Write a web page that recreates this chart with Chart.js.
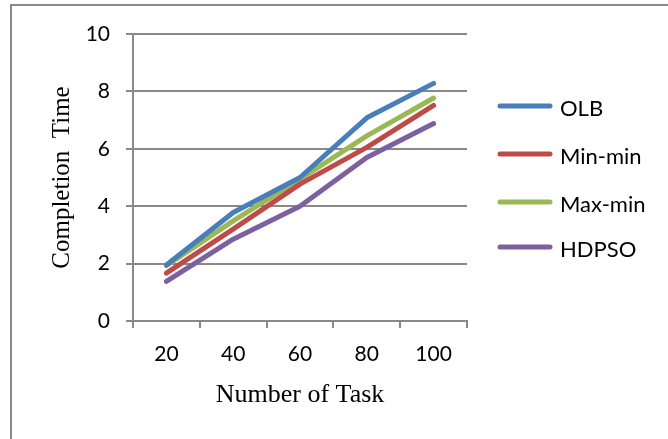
<!DOCTYPE html>
<html>
<head>
<meta charset="utf-8">
<script src="https://cdn.jsdelivr.net/npm/chart.js@4.4.1/dist/chart.umd.min.js"></script>
<style>
    body { margin: 0; background: #fff; }
    #wrap { position: relative; width: 668px; height: 439px; overflow: hidden; }
    #frame {
        position: absolute; left: 10px; top: 4px; width: 700px; height: 500px;
        border-left: 2px solid #8a8a8a; border-top: 2px solid #8a8a8a;
    }
    canvas { position: absolute; left: 0; top: 0; }
</style>
</head>
<body>
<div id="wrap">
    <div id="frame"></div>
    <canvas id="taskChart" width="668" height="439"></canvas>
</div>
<script>
// --- DATA ---
var taskCounts = ['20', '40', '60', '80', '100'];
var olbTimes = [1.95, 3.78, 5.0, 7.08, 8.28];
var minMinTimes = [1.67, 3.2, 4.77, 6.05, 7.51];
var maxMinTimes = [1.93, 3.49, 4.94, 6.45, 7.77];
var hdpsoTimes = [1.38, 2.85, 4.0, 5.7, 6.88];
var yTicks = [0, 2, 4, 6, 8, 10];

var gridColor = '#898989';
var labelFont = { family: 'Lato', size: 21 };

// legend on the right, drawn from dataset labels and colors
var sideLegend = {
    id: 'sideLegend',
    afterDraw: function (chart) {
        var ctx = chart.ctx;
        var rows = [106, 154, 202, 247];
        ctx.save();
        chart.data.datasets.forEach(function (ds, i) {
            var y = rows[i];
            ctx.strokeStyle = ds.borderColor;
            ctx.lineWidth = 5;
            ctx.lineCap = 'round';
            ctx.beginPath();
            ctx.moveTo(500, y);
            ctx.lineTo(550, y);
            ctx.stroke();
            ctx.fillStyle = '#000';
            ctx.font = '22px Lato';
            ctx.textBaseline = 'middle';
            ctx.textAlign = 'left';
            ctx.fillText(ds.label, 560, y + 3);
        });
        ctx.restore();
    }
};

function makeSeries(label, values, color) {
    return {
        label: label,
        data: values,
        borderColor: color,
        backgroundColor: color,
        borderWidth: 5,
        borderCapStyle: 'round',
        borderJoinStyle: 'round',
        pointRadius: 0,
        tension: 0,
        fill: false
    };
}

var ctx = document.getElementById('taskChart').getContext('2d');
var taskChart = new Chart(ctx, {
    type: 'line',
    data: {
        labels: taskCounts,
        datasets: [
            makeSeries('OLB', olbTimes, '#4A7EBB'),
            makeSeries('Min-min', minMinTimes, '#BE4B48'),
            makeSeries('Max-min', maxMinTimes, '#98B954'),
            makeSeries('HDPSO', hdpsoTimes, '#7D60A0')
        ]
    },
    options: {
        responsive: false,
        animation: false,
        layout: { padding: { left: 11, right: 201, top: 34, bottom: 20 } },
        plugins: {
            legend: { display: false },
            tooltip: { enabled: false }
        },
        scales: {
            x: {
                offset: true,
                grid: { offset: true, drawOnChartArea: false, drawTicks: true, tickLength: 7, color: gridColor, lineWidth: 2 },
                border: { display: true, color: gridColor, width: 2 },
                ticks: { color: '#000', font: labelFont, padding: 14, maxRotation: 0 },
                title: {
                    display: true,
                    text: 'Number of Task',
                    color: '#000',
                    font: { family: 'Liberation Serif', size: 26 },
                    padding: { top: 0, bottom: 8 }
                },
                afterFit: function (scale) { scale.height = 98; }
            },
            y: {
                min: 0,
                max: 10,
                afterBuildTicks: function (scale) {
                    scale.ticks = yTicks.map(function (v) { return { value: v }; });
                },
                grid: { color: gridColor, lineWidth: 2, tickLength: 7 },
                border: { display: true, color: gridColor, width: 2 },
                ticks: { color: '#000', font: labelFont, padding: 16 },
                title: {
                    display: true,
                    text: 'Completion  Time',
                    color: '#000',
                    font: { family: 'Liberation Serif', size: 25 },
                    padding: { top: 36, bottom: 0 }
                },
                afterFit: function (scale) { scale.width = 122; }
            }
        }
    },
    plugins: [sideLegend]
});
</script>
</body>
</html>
